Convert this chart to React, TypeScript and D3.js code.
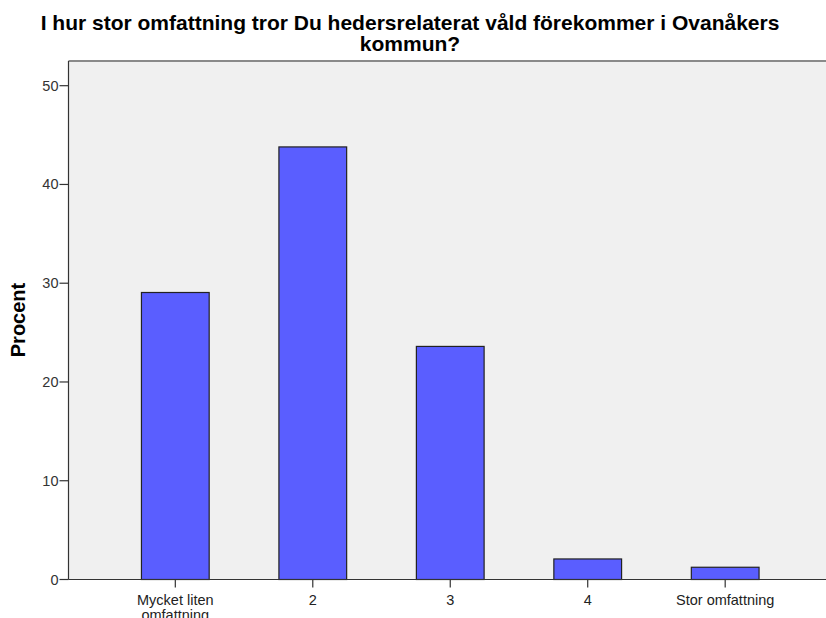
import React from "react";
import * as d3 from "d3";

const categories = ["Mycket liten\nomfattning", "2", "3", "4", "Stor omfattning"];
const values = [29.06, 43.8, 23.6, 2.08, 1.24];
const yTicks = [0, 10, 20, 30, 40, 50];
const titleLines = [
  "I hur stor omfattning tror Du hedersrelaterat våld förekommer i Ovanåkers",
  "kommun?",
];
const yLabel = "Procent";

const W = 826;
const H = 618;
const left = 68.5;
const top = 61;
const bottom = 579.5;
const right = 832;

export default function App() {
  const y = d3.scaleLinear().domain([0, 52.5]).range([bottom, top]);
  const x = d3
    .scaleBand<string>()
    .domain(categories)
    .range([left, right])
    .paddingInner(0.5)
    .paddingOuter(0.527);
  const bw = x.bandwidth();
  const font = "'Liberation Sans', Arial, sans-serif";
  return (
    <svg
      width={W}
      height={H}
      style={{ position: "absolute", left: 0, top: 0, background: "#fff" }}
      fontFamily={font}
    >
      <rect x={left} y={top} width={right - left} height={bottom - top} fill="#f0f0f0" />
      <line x1={left} x2={right} y1={top} y2={top} stroke="#8a8a8a" strokeWidth={2} />
      {categories.map((c, i) => (
        <rect
          key={c}
          x={(x(c) as number) + 0.5}
          y={y(values[i])}
          width={bw - 1}
          height={bottom - y(values[i])}
          fill="#5a5eff"
          stroke="#222"
          strokeWidth={1.2}
        />
      ))}
      <line x1={left} x2={left} y1={top} y2={bottom} stroke="#333" strokeWidth={1.2} />
      <line x1={left} x2={right} y1={bottom} y2={bottom} stroke="#333" strokeWidth={1.2} />
      {yTicks.map((t) => (
        <g key={t}>
          <line x1={left - 9} x2={left} y1={y(t)} y2={y(t)} stroke="#333" strokeWidth={1.2} />
          <text x={left - 10} y={y(t) + 5} textAnchor="end" fontSize={14.5} fill="#333">
            {t}
          </text>
        </g>
      ))}
      {categories.map((c) => {
        const cx = (x(c) as number) + bw / 2;
        const lines = c.split("\n");
        return (
          <g key={c}>
            <line x1={cx} x2={cx} y1={bottom} y2={bottom + 8} stroke="#333" strokeWidth={1.2} />
            {lines.map((l, j) => (
              <text
                key={j}
                x={cx}
                y={605 + j * 15}
                textAnchor="middle"
                fontSize={14.5}
                fill="#222"
              >
                {l}
              </text>
            ))}
          </g>
        );
      })}
      <text
        transform={`translate(25,320) rotate(-90)`}
        textAnchor="middle"
        fontSize={20}
        fontWeight="bold"
        fill="#000"
      >
        {yLabel}
      </text>
      {titleLines.map((t, i) => (
        <text
          key={i}
          x={410}
          y={30 + i * 21}
          textAnchor="middle"
          fontSize={21}
          fontWeight="bold"
          fill="#000"
        >
          {t}
        </text>
      ))}
    </svg>
  );
}
